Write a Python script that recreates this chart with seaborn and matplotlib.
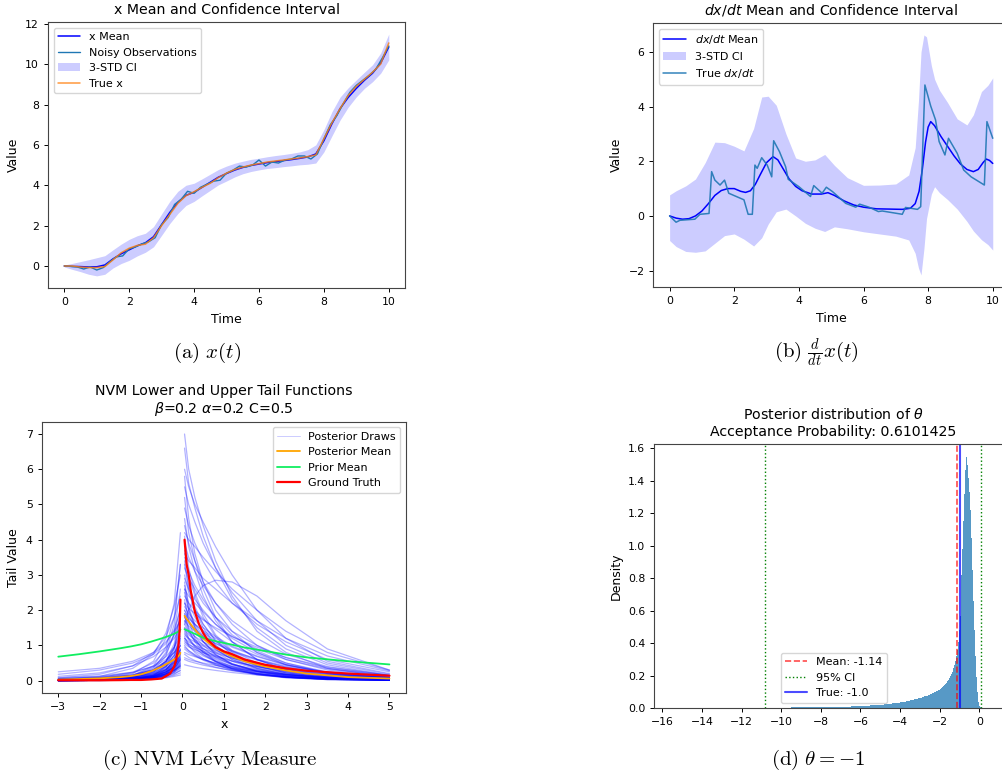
import matplotlib.pyplot as plt
from matplotlib.lines import Line2D
import numpy as np
import seaborn as sns

# ---------------- (a) x(t) ----------------
t_grid = np.linspace(0, 10, 41)
x_mean = [0.0, -0.02, -0.03, -0.05, -0.04, 0.05, 0.35, 0.6, 0.8, 1.0, 1.15, 1.45, 2.05, 2.65,
          3.15, 3.5, 3.65, 3.9, 4.15, 4.4, 4.58, 4.75, 4.88, 4.98, 5.05, 5.12, 5.17, 5.22,
          5.27, 5.33, 5.4, 5.55, 6.2, 7.05, 7.8, 8.35, 8.8, 9.2, 9.55, 10.05, 10.85]
x_true = [0.0, 0.0, -0.05, -0.08, -0.08, -0.03, 0.3, 0.65, 0.88, 1.02, 1.08, 1.4, 2.0, 2.55,
          3.1, 3.48, 3.68, 3.9, 4.1, 4.38, 4.6, 4.78, 4.9, 5.0, 5.07, 5.15, 5.2, 5.25,
          5.3, 5.35, 5.42, 5.5, 6.3, 7.1, 7.8, 8.45, 8.9, 9.25, 9.6, 10.0, 11.05]
x_halfwidth = [0.05, 0.15, 0.25, 0.36, 0.45, 0.46, 0.45, 0.48, 0.52, 0.5, 0.47, 0.5, 0.53, 0.55,
               0.55, 0.5, 0.45, 0.42, 0.4, 0.38, 0.37, 0.34, 0.31, 0.3, 0.29, 0.29, 0.3, 0.3,
               0.31, 0.32, 0.36, 0.45, 0.55, 0.6, 0.57, 0.48, 0.42, 0.4, 0.42, 0.5, 0.64]
t_obs = np.linspace(0, 10, 51)
x_obs = [0.0, -0.02, -0.05, -0.15, -0.05, -0.2, -0.08, 0.2, 0.45, 0.5, 0.85, 0.95, 1.1, 1.2,
         1.4, 2.05, 2.4, 3.05, 3.3, 3.7, 3.6, 3.9, 4.05, 4.2, 4.25, 4.6, 4.75, 4.95, 4.9,
         5.0, 5.25, 4.95, 5.15, 5.1, 5.25, 5.3, 5.45, 5.45, 5.3, 5.55, 6.3, 7.0, 7.45, 8.05,
         8.6, 8.95, 9.2, 9.45, 9.75, 10.3, 10.9]

# ---------------- (b) dx/dt ----------------
dx_t = [0, 0.2, 0.4, 0.6, 0.8, 1.0, 1.2, 1.4, 1.6, 1.8, 2.0, 2.2, 2.35, 2.5, 2.65, 2.8, 3.0,
        3.2, 3.35, 3.5, 3.7, 3.9, 4.1, 4.4, 4.7, 4.9, 5.1, 5.4, 5.7, 6.0, 6.4, 6.8, 7.2,
        7.45, 7.6, 7.72, 7.82, 7.92, 8.0, 8.08, 8.2, 8.4, 8.6, 8.8, 9.0, 9.2, 9.4, 9.55,
        9.7, 9.8, 9.9, 10.0]
dx_mean = [0.0, -0.08, -0.12, -0.1, 0.0, 0.18, 0.45, 0.75, 0.93, 1.0, 1.0, 0.9, 0.86, 0.92,
           1.15, 1.5, 1.95, 2.17, 2.05, 1.75, 1.35, 1.08, 0.92, 0.8, 0.8, 0.85, 0.75, 0.55,
           0.4, 0.32, 0.26, 0.25, 0.24, 0.28, 0.45, 0.9, 1.7, 2.7, 3.25, 3.45, 3.3, 2.9,
           2.55, 2.2, 1.9, 1.7, 1.62, 1.7, 1.95, 2.08, 2.03, 1.92]
band_t = [0, 0.2, 0.5, 0.8, 1.1, 1.4, 1.7, 2.0, 2.3, 2.6, 2.85, 3.05, 3.3, 3.6, 3.9, 4.2,
          4.5, 4.8, 5.1, 5.5, 6.0, 6.5, 7.0, 7.4, 7.6, 7.7, 7.78, 7.87, 7.95, 8.1, 8.2,
          8.35, 8.6, 8.9, 9.2, 9.4, 9.65, 9.85, 10.0]
band_hi = [0.77, 0.92, 1.1, 1.35, 1.95, 2.7, 2.68, 2.55, 2.38, 3.2, 4.35, 4.38, 4.05, 3.0,
           2.12, 2.0, 2.05, 2.25, 1.85, 1.4, 1.12, 1.13, 1.17, 1.5, 2.5, 4.2, 6.0, 6.62,
           6.55, 5.5, 5.0, 4.6, 4.15, 3.55, 3.33, 3.7, 4.55, 4.78, 5.05]
band_lo = [-0.9, -1.12, -1.3, -1.33, -1.28, -1.0, -0.72, -0.66, -0.85, -1.1, -0.8, -0.3,
           0.15, 0.25, 0.0, -0.27, -0.45, -0.57, -0.4, -0.47, -0.58, -0.66, -0.74, -0.88,
           -1.37, -1.9, -2.16, -1.2, -0.1, 0.8, 1.07, 0.85, 0.6, 0.25, -0.2, -0.55, -0.87,
           -1.05, -1.25]
true_dx_t = [0.0, 0.2, 0.32, 0.78, 0.94, 1.22, 1.3, 1.4, 1.56, 1.7, 1.83, 2.3, 2.43, 2.56,
             2.64, 2.71, 2.85, 3.02, 3.16, 3.22, 3.4, 3.59, 3.67, 4.0, 4.3, 4.36, 4.46, 4.72,
             4.85, 5.04, 5.45, 5.76, 5.88, 6.17, 6.46, 6.58, 7.2, 7.3, 7.67, 7.77, 7.9, 8.08,
             8.23, 8.34, 8.52, 8.63, 8.9, 9.1, 9.33, 9.74, 9.82, 10.0]
true_dx = [0.0, -0.23, -0.16, -0.12, 0.06, 0.09, 1.62, 1.31, 1.13, 1.31, 0.83, 0.59, 0.06,
           0.06, 1.86, 1.74, 2.13, 1.86, 1.43, 2.75, 2.35, 1.8, 1.34, 1.07, 0.77, 0.71, 1.11,
           0.83, 1.05, 0.89, 0.46, 0.32, 0.43, 0.32, 0.16, 0.18, 0.06, 0.31, 0.24, 0.34, 4.79,
           4.02, 3.51, 2.72, 2.23, 2.84, 2.29, 1.68, 1.43, 1.13, 3.45, 2.84]

# ---------------- (c) NVM tail functions ----------------
x_lo = [-3, -2, -1.2, -0.7, -0.4, -0.2, -0.05]
x_up = [0.05, 0.15, 0.3, 0.5, 0.8, 1.2, 1.8, 2.5, 3.5, 5.0]
draws_up = [
    [7.0, 6.0, 5.2, 4.4, 3.4, 2.4, 1.4, 0.8, 0.35, 0.1],
    [6.6, 5.6, 4.9, 4.1, 3.2, 2.3, 1.5, 0.9, 0.45, 0.15],
    [6.0, 5.5, 5.0, 4.5, 3.8, 3.0, 2.0, 1.2, 0.55, 0.2],
    [5.8, 4.6, 3.6, 2.8, 2.0, 1.4, 0.8, 0.45, 0.2, 0.06],
    [5.5, 5.0, 4.5, 3.9, 3.2, 2.5, 1.7, 1.0, 0.5, 0.18],
    [5.2, 4.2, 3.4, 2.6, 1.8, 1.1, 0.6, 0.3, 0.12, 0.04],
    [4.9, 4.4, 3.9, 3.4, 2.8, 2.2, 1.6, 1.1, 0.6, 0.25],
    [4.6, 3.8, 3.1, 2.4, 1.7, 1.1, 0.6, 0.3, 0.12, 0.04],
    [4.4, 3.9, 3.4, 2.8, 2.2, 1.6, 1.0, 0.6, 0.3, 0.1],
    [4.1, 3.2, 2.5, 1.9, 1.3, 0.85, 0.5, 0.28, 0.12, 0.04],
    [3.9, 3.5, 3.1, 2.7, 2.2, 1.7, 1.2, 0.75, 0.4, 0.15],
    [3.7, 3.0, 2.4, 1.8, 1.25, 0.8, 0.45, 0.25, 0.1, 0.03],
    [3.5, 3.1, 2.7, 2.3, 1.8, 1.3, 0.85, 0.5, 0.22, 0.07],
    [3.3, 2.6, 2.0, 1.5, 1.0, 0.65, 0.35, 0.18, 0.07, 0.02],
    [3.2, 2.9, 2.6, 2.2, 1.8, 1.4, 1.0, 0.65, 0.35, 0.14],
    [3.0, 2.5, 2.0, 1.6, 1.15, 0.75, 0.42, 0.22, 0.09, 0.03],
    [2.9, 2.6, 2.3, 2.0, 1.6, 1.2, 0.8, 0.5, 0.25, 0.1],
    [2.7, 2.2, 1.8, 1.4, 1.0, 0.68, 0.4, 0.22, 0.1, 0.03],
    [2.6, 2.4, 2.2, 1.95, 1.6, 1.25, 0.9, 0.6, 0.33, 0.13],
    [2.5, 2.0, 1.6, 1.25, 0.9, 0.6, 0.34, 0.18, 0.07, 0.02],
    [2.4, 2.2, 2.0, 1.75, 1.45, 1.1, 0.75, 0.46, 0.22, 0.08],
    [2.2, 1.85, 1.5, 1.2, 0.88, 0.6, 0.36, 0.2, 0.08, 0.03],
    [2.1, 1.9, 1.7, 1.5, 1.25, 0.98, 0.7, 0.45, 0.24, 0.1],
    [2.0, 1.7, 1.4, 1.1, 0.8, 0.55, 0.32, 0.17, 0.07, 0.02],
    [1.9, 1.75, 1.6, 1.42, 1.2, 0.95, 0.68, 0.44, 0.23, 0.09],
    [1.8, 1.5, 1.25, 1.0, 0.72, 0.48, 0.27, 0.14, 0.05, 0.02],
    [1.7, 1.55, 1.4, 1.25, 1.05, 0.82, 0.58, 0.38, 0.2, 0.08],
    [1.6, 1.35, 1.12, 0.9, 0.66, 0.45, 0.26, 0.13, 0.05, 0.01],
    [1.5, 1.38, 1.25, 1.1, 0.92, 0.72, 0.5, 0.32, 0.16, 0.06],
    [1.4, 1.2, 1.0, 0.8, 0.6, 0.4, 0.22, 0.11, 0.04, 0.01],
    [1.3, 1.2, 1.1, 0.98, 0.82, 0.64, 0.45, 0.28, 0.14, 0.05],
    [1.2, 1.05, 0.9, 0.74, 0.56, 0.38, 0.21, 0.1, 0.04, 0.01],
    [1.1, 1.02, 0.94, 0.84, 0.71, 0.56, 0.39, 0.25, 0.12, 0.04],
    [0.95, 0.85, 0.74, 0.62, 0.48, 0.33, 0.19, 0.09, 0.03, 0.01],
    [0.8, 0.74, 0.68, 0.6, 0.5, 0.39, 0.27, 0.17, 0.08, 0.03],
    [0.6, 0.55, 0.5, 0.44, 0.37, 0.29, 0.2, 0.12, 0.06, 0.02],
    [1.6, 2.0, 2.4, 2.7, 2.85, 2.8, 2.4, 1.7, 0.9, 0.3],
    [4.2, 4.0, 3.8, 3.5, 3.1, 2.6, 2.0, 1.4, 0.8, 0.3],
    [3.6, 3.4, 3.2, 2.9, 2.6, 2.2, 1.7, 1.2, 0.7, 0.28],
    [0.45, 0.42, 0.38, 0.34, 0.29, 0.23, 0.16, 0.1, 0.05, 0.02],
    [2.3, 1.7, 1.2, 0.85, 0.55, 0.33, 0.17, 0.08, 0.03, 0.01],
    [1.9, 1.45, 1.1, 0.8, 0.54, 0.34, 0.19, 0.1, 0.04, 0.01],
    [1.7, 1.4, 1.15, 0.92, 0.68, 0.47, 0.29, 0.17, 0.08, 0.03],
    [1.5, 1.2, 0.95, 0.74, 0.53, 0.35, 0.2, 0.1, 0.04, 0.01],
    [1.35, 1.15, 0.98, 0.82, 0.63, 0.46, 0.3, 0.18, 0.09, 0.03],
    [1.25, 1.0, 0.8, 0.62, 0.45, 0.3, 0.17, 0.09, 0.03, 0.01],
    [1.15, 0.98, 0.84, 0.7, 0.55, 0.41, 0.27, 0.16, 0.07, 0.02],
    [1.0, 0.85, 0.72, 0.58, 0.44, 0.31, 0.19, 0.1, 0.04, 0.01],
    [0.9, 0.8, 0.7, 0.6, 0.48, 0.36, 0.24, 0.14, 0.06, 0.02],
    [0.75, 0.66, 0.57, 0.48, 0.38, 0.28, 0.18, 0.1, 0.04, 0.01],
    [2.8, 2.1, 1.55, 1.12, 0.74, 0.46, 0.25, 0.12, 0.05, 0.01],
    [2.0, 1.8, 1.6, 1.38, 1.12, 0.86, 0.6, 0.38, 0.19, 0.07],
    [1.8, 1.62, 1.45, 1.27, 1.06, 0.84, 0.61, 0.41, 0.22, 0.09],
    [3.4, 2.7, 2.1, 1.6, 1.12, 0.74, 0.42, 0.22, 0.09, 0.03],
    [1.45, 1.3, 1.16, 1.02, 0.86, 0.68, 0.49, 0.32, 0.17, 0.06],
    [2.2, 2.05, 1.9, 1.72, 1.5, 1.25, 0.95, 0.66, 0.38, 0.15],
    [0.65, 0.6, 0.55, 0.5, 0.43, 0.35, 0.26, 0.17, 0.09, 0.03],
    [1.05, 0.96, 0.88, 0.79, 0.68, 0.55, 0.4, 0.27, 0.14, 0.05],
    [2.6, 2.0, 1.5, 1.1, 0.75, 0.48, 0.27, 0.14, 0.06, 0.02],
    [1.2, 1.1, 1.0, 0.9, 0.78, 0.64, 0.48, 0.33, 0.18, 0.07],
]
draws_lo = [
    [0.02, 0.06, 0.2, 0.55, 1.2, 2.2, 4.2],
    [0.01, 0.04, 0.15, 0.42, 0.95, 1.8, 3.3],
    [0.05, 0.12, 0.35, 0.75, 1.35, 2.1, 3.0],
    [0.01, 0.03, 0.1, 0.3, 0.7, 1.35, 2.6],
    [0.08, 0.18, 0.42, 0.8, 1.25, 1.8, 2.4],
    [0.02, 0.05, 0.15, 0.38, 0.75, 1.3, 2.1],
    [0.0, 0.02, 0.08, 0.24, 0.55, 1.05, 1.9],
    [0.04, 0.09, 0.24, 0.5, 0.88, 1.3, 1.75],
    [0.01, 0.03, 0.09, 0.25, 0.52, 0.95, 1.6],
    [0.12, 0.22, 0.42, 0.68, 0.95, 1.2, 1.5],
    [0.02, 0.05, 0.13, 0.3, 0.55, 0.9, 1.4],
    [0.0, 0.01, 0.05, 0.16, 0.38, 0.72, 1.3],
    [0.05, 0.1, 0.22, 0.42, 0.68, 0.95, 1.25],
    [0.01, 0.03, 0.08, 0.2, 0.42, 0.72, 1.15],
    [0.03, 0.07, 0.16, 0.32, 0.55, 0.8, 1.1],
    [0.0, 0.01, 0.04, 0.13, 0.3, 0.58, 1.0],
    [0.08, 0.13, 0.24, 0.4, 0.6, 0.8, 0.98],
    [0.02, 0.04, 0.1, 0.22, 0.4, 0.62, 0.9],
    [0.0, 0.02, 0.06, 0.15, 0.32, 0.55, 0.85],
    [0.04, 0.07, 0.14, 0.27, 0.44, 0.62, 0.8],
    [0.01, 0.03, 0.07, 0.16, 0.31, 0.5, 0.75],
    [0.02, 0.05, 0.1, 0.2, 0.35, 0.52, 0.7],
    [0.0, 0.01, 0.04, 0.11, 0.24, 0.42, 0.65],
    [0.03, 0.05, 0.1, 0.19, 0.31, 0.45, 0.6],
    [0.01, 0.02, 0.06, 0.13, 0.25, 0.39, 0.55],
    [0.02, 0.04, 0.08, 0.15, 0.25, 0.36, 0.5],
    [0.0, 0.01, 0.03, 0.08, 0.17, 0.29, 0.45],
    [0.01, 0.03, 0.06, 0.12, 0.2, 0.3, 0.4],
    [0.0, 0.01, 0.03, 0.07, 0.14, 0.23, 0.35],
    [0.01, 0.02, 0.04, 0.08, 0.14, 0.2, 0.28],
    [0.0, 0.01, 0.02, 0.05, 0.1, 0.15, 0.22],
    [0.01, 0.01, 0.03, 0.05, 0.08, 0.12, 0.16],
    [0.25, 0.35, 0.55, 0.8, 1.1, 1.4, 1.7],
    [0.18, 0.3, 0.5, 0.75, 1.05, 1.45, 2.0],
    [0.01, 0.03, 0.12, 0.35, 0.8, 1.6, 3.3],
    [0.0, 0.01, 0.05, 0.15, 0.4, 0.9, 1.9],
    [0.02, 0.05, 0.12, 0.28, 0.5, 0.8, 1.2],
    [0.0, 0.01, 0.04, 0.12, 0.27, 0.5, 0.8],
    [0.03, 0.06, 0.14, 0.3, 0.55, 0.95, 1.5],
    [0.0, 0.0, 0.02, 0.05, 0.1, 0.18, 0.3],
    [0.0, 0.01, 0.03, 0.1, 0.25, 0.5, 1.05],
    [0.01, 0.02, 0.05, 0.12, 0.24, 0.42, 0.7],
    [0.0, 0.01, 0.02, 0.06, 0.15, 0.32, 0.62],
    [0.02, 0.04, 0.08, 0.16, 0.28, 0.44, 0.66],
    [0.0, 0.01, 0.03, 0.08, 0.18, 0.34, 0.58],
    [0.01, 0.02, 0.05, 0.1, 0.19, 0.31, 0.48],
    [0.0, 0.01, 0.02, 0.05, 0.12, 0.24, 0.45],
    [0.01, 0.03, 0.06, 0.13, 0.24, 0.4, 0.62],
    [0.0, 0.0, 0.02, 0.06, 0.14, 0.28, 0.52],
    [0.02, 0.03, 0.06, 0.11, 0.19, 0.29, 0.42],
    [0.0, 0.01, 0.04, 0.12, 0.3, 0.62, 1.2],
    [0.03, 0.06, 0.12, 0.24, 0.4, 0.6, 0.88],
    [0.0, 0.01, 0.03, 0.09, 0.21, 0.4, 0.75],
    [0.01, 0.02, 0.05, 0.11, 0.21, 0.36, 0.58],
    [0.05, 0.09, 0.17, 0.3, 0.48, 0.7, 1.0],
    [0.0, 0.01, 0.02, 0.07, 0.18, 0.38, 0.78],
    [0.01, 0.02, 0.04, 0.09, 0.17, 0.28, 0.42],
    [0.0, 0.01, 0.03, 0.08, 0.2, 0.42, 0.9],
    [0.02, 0.04, 0.09, 0.18, 0.33, 0.54, 0.85],
    [0.01, 0.02, 0.04, 0.08, 0.15, 0.25, 0.38],
]
curve_x_lo = [-3, -2.5, -2, -1.5, -1.25, -1, -0.75, -0.5, -0.3, -0.2, -0.15, -0.1, -0.07, -0.05]
curve_x_up = [0.05, 0.1, 0.15, 0.2, 0.25, 0.3, 0.4, 0.5, 0.6, 0.8, 1.0, 1.2, 1.5, 2.0, 2.5,
              3.0, 4.0, 5.0]
post_mean_lo = [0.03, 0.045, 0.065, 0.1, 0.13, 0.18, 0.27, 0.4, 0.53, 0.6, 0.64, 0.69, 0.74, 0.79]
post_mean_up = [1.84, 1.75, 1.68, 1.6, 1.52, 1.45, 1.32, 1.2, 1.1, 0.93, 0.8, 0.69, 0.55, 0.4,
                0.29, 0.2, 0.1, 0.06]
prior_mean_lo = [0.68, 0.75, 0.83, 0.92, 0.97, 1.03, 1.11, 1.2, 1.28, 1.33, 1.36, 1.39, 1.42, 1.45]
prior_mean_up = [1.46, 1.43, 1.41, 1.38, 1.35, 1.33, 1.27, 1.22, 1.18, 1.12, 1.07, 1.02, 0.94,
                 0.84, 0.74, 0.66, 0.55, 0.46]
truth_lo = [0.01, 0.01, 0.01, 0.015, 0.02, 0.02, 0.035, 0.06, 0.2, 0.4, 0.6, 0.95, 1.4, 2.3]
truth_up = [4.0, 3.3, 3.0, 2.55, 2.25, 1.95, 1.6, 1.35, 1.17, 0.95, 0.83, 0.75, 0.6, 0.45,
            0.35, 0.28, 0.2, 0.14]

# ---------------- (d) posterior of theta ----------------
hist_edges = np.concatenate([np.linspace(-16, -5.5, 22), np.linspace(-5, -2.1, 30),
                             np.linspace(-2, 0.15, 44)])
hist_density = [
    0.0002, 0.0003, 0.0003, 0.0004, 0.0005, 0.0006, 0.0008, 0.001, 0.0012, 0.0015, 0.0018,
    0.0022, 0.0027, 0.0033, 0.004, 0.005, 0.006, 0.0075, 0.009, 0.011, 0.0135, 0.0165,
    0.02, 0.021, 0.022, 0.024, 0.025, 0.026, 0.028, 0.029, 0.031, 0.033, 0.035, 0.037,
    0.039, 0.041, 0.044, 0.047, 0.05, 0.053, 0.056, 0.06, 0.064, 0.068, 0.072, 0.077,
    0.082, 0.087, 0.093, 0.099, 0.105, 0.112,
    0.12, 0.125, 0.13, 0.135, 0.14, 0.15, 0.155, 0.165, 0.175, 0.185, 0.195, 0.21, 0.225,
    0.245, 0.265, 0.29, 0.32, 0.36, 0.41, 0.48, 0.57, 0.68, 0.82, 0.98, 1.15, 1.32, 1.47,
    1.55, 1.5, 1.42, 1.33, 1.22, 1.05, 0.85, 0.66, 0.48, 0.32, 0.19, 0.1, 0.04, 0.012,
    0.004, 0.001,
]
theta_mean = -1.14
theta_true = -1.0
theta_ci = [-10.84, 0.08]

# ---------------- style ----------------
sns.set_style("ticks")
plt.rcParams["font.family"] = ["DejaVu Sans"]
plt.rcParams.update({
    "axes.titlesize": 10.2, "axes.labelsize": 9, "xtick.labelsize": 7.8,
    "ytick.labelsize": 7.8, "legend.fontsize": 8, "axes.linewidth": 0.8,
    "axes.edgecolor": "#444444", "xtick.major.size": 3, "ytick.major.size": 3,
    "xtick.major.width": 0.7, "ytick.major.width": 0.7,
    "text.color": "black", "axes.labelcolor": "black",
    "xtick.color": "black", "ytick.color": "black",
})

fig = plt.figure(figsize=(10.03, 7.76), dpi=100)

# (a)
ax = fig.add_axes([0.0479, 0.6289, 0.3559, 0.3428])
x_lo_band = np.array(x_mean) - np.array(x_halfwidth)
x_hi_band = np.array(x_mean) + np.array(x_halfwidth)
sns.lineplot(x=t_grid, y=x_mean, ax=ax, color="blue", lw=1.1, label="x Mean")
sns.lineplot(x=t_obs, y=x_obs, ax=ax, color="C0", lw=1.0, label="Noisy Observations")
ax.fill_between(t_grid, x_lo_band, x_hi_band, color="blue", alpha=0.2, lw=0, label="3-STD CI")
sns.lineplot(x=t_grid, y=x_true, ax=ax, color="C1", alpha=0.8, lw=1.1, label="True x")
ax.set_title("x Mean and Confidence Interval")
ax.set_xlabel("Time")
ax.set_ylabel("Value")
ax.legend(loc="upper left")

# (b)
ax = fig.add_axes([0.6515, 0.6302, 0.3544, 0.3402])
sns.lineplot(x=dx_t, y=dx_mean, ax=ax, color="blue", lw=1.1, label=r"$dx/dt$ Mean")
ax.fill_between(band_t, band_lo, band_hi, color="blue", alpha=0.2, lw=0, label="3-STD CI")
sns.lineplot(x=true_dx_t, y=true_dx, ax=ax, color="C0", alpha=0.9, lw=1.1, label=r"True $dx/dt$")
ax.set_title(r"$dx/dt$ Mean and Confidence Interval")
ax.set_xlabel("Time")
ax.set_ylabel("Value")
ax.legend(loc="upper left")

# (c)
ax = fig.add_axes([0.0416, 0.1070, 0.3632, 0.3496])
for lo_vals, up_vals in zip(draws_lo, draws_up):
    ax.plot(x_lo, lo_vals, color="blue", alpha=0.3, lw=0.9)
    ax.plot(x_up, up_vals, color="blue", alpha=0.3, lw=0.9)
sns.lineplot(x=curve_x_lo, y=post_mean_lo, ax=ax, color="orange", lw=1.3)
sns.lineplot(x=curve_x_up, y=post_mean_up, ax=ax, color="orange", lw=1.3)
sns.lineplot(x=curve_x_lo, y=prior_mean_lo, ax=ax, color="#10ee60", lw=1.3)
sns.lineplot(x=curve_x_up, y=prior_mean_up, ax=ax, color="#10ee60", lw=1.3)
sns.lineplot(x=curve_x_lo, y=truth_lo, ax=ax, color="red", lw=1.6)
sns.lineplot(x=curve_x_up, y=truth_up, ax=ax, color="red", lw=1.6)
handles_c = [Line2D([], [], color="blue", alpha=0.2, lw=0.7),
             Line2D([], [], color="orange", lw=1.3),
             Line2D([], [], color="#10ee60", lw=1.3),
             Line2D([], [], color="red", lw=1.6)]
ax.legend(handles_c, ["Posterior Draws", "Posterior Mean", "Prior Mean", "Ground Truth"],
          loc="upper right")
ax.set_title("NVM Lower and Upper Tail Functions\n" + r"$\beta$=0.2 $\alpha$=0.2 C=0.5")
ax.set_xlabel("x")
ax.set_ylabel("Tail Value")

# (d)
ax = fig.add_axes([0.6524, 0.0876, 0.3566, 0.3402])
centers = (hist_edges[:-1] + hist_edges[1:]) / 2
sns.histplot(x=centers, weights=hist_density, bins=hist_edges.tolist(), stat="count", ax=ax,
             color="C0", alpha=0.75, linewidth=0)
ax.axvline(theta_mean, color="red", ls="--", lw=1.2, alpha=0.7, label=f"Mean: {theta_mean}")
ax.axvline(theta_ci[0], color="green", ls=":", lw=1.0, label="95% CI")
ax.axvline(theta_ci[1], color="green", ls=":", lw=1.0)
ax.axvline(theta_true, color="blue", lw=1.5, alpha=0.7, label=f"True: {theta_true}")
ax.set_xlim(-16.4, 1.65)
ax.set_xticks(range(-16, 1, 2))
ax.set_title("Posterior distribution of $\\theta$\nAcceptance Probability: 0.6101425")
ax.set_xlabel("")
ax.set_ylabel("Density")
ax.legend(loc="lower left", bbox_to_anchor=(0.353, 0.02), borderaxespad=0)

# captions
cap = dict(ha="center", va="center", fontsize=15, math_fontfamily="cm")
fig.text(207 / 1003, 1 - 353 / 776, r"$\mathrm{(a)}\ x(t)$", **cap)
fig.text(816 / 1003, 1 - 353 / 776, r"$\mathrm{(b)}\ \frac{d}{dt}x(t)$", **cap)
fig.text(210 / 1003, 1 - 760 / 776, r"$\mathrm{(c)\ NVM\ L\acute{e}vy\ Measure}$", **cap)
fig.text(818 / 1003, 1 - 760 / 776, r"$\mathrm{(d)}\ \theta = -1$", **cap)

fig.savefig("out.png", dpi=100)
